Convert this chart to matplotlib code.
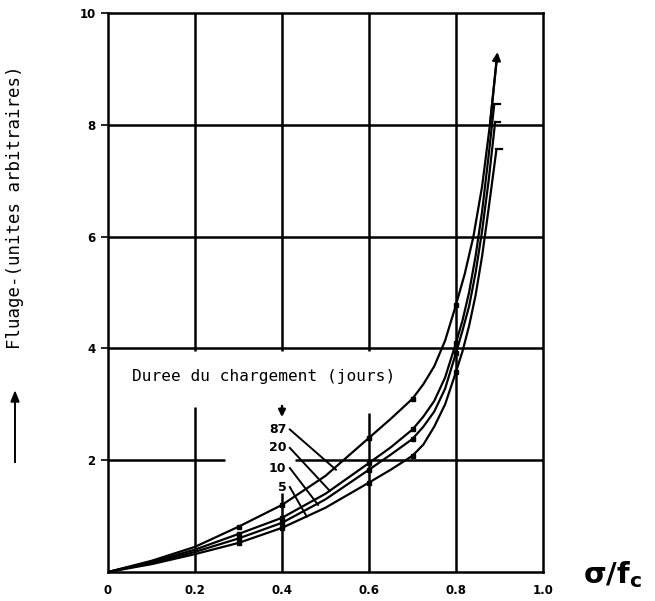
import numpy as np
import matplotlib.pyplot as plt

# readings from the scanned figure (sigma/fc vs creep, arbitrary units)
x_87 = [0.0, 0.1, 0.2, 0.3, 0.4, 0.5, 0.6, 0.65, 0.7, 0.725, 0.75, 0.775, 0.8, 0.82, 0.84, 0.86, 0.878, 0.894]
creep_87 = [0.0, 0.20, 0.45, 0.81, 1.20, 1.72, 2.40, 2.74, 3.10, 3.36, 3.68, 4.14, 4.78, 5.33, 6.00, 6.90, 8.00, 9.20]
x_20 = [0.0, 0.1, 0.2, 0.3, 0.4, 0.5, 0.6, 0.65, 0.7, 0.725, 0.75, 0.775, 0.8, 0.815, 0.83, 0.845, 0.86, 0.875, 0.888]
creep_20 = [0.0, 0.18, 0.40, 0.68, 0.97, 1.40, 1.95, 2.23, 2.55, 2.78, 3.06, 3.48, 4.10, 4.50, 5.00, 5.65, 6.45, 7.45, 8.37]
x_10 = [0.0, 0.1, 0.2, 0.3, 0.4, 0.5, 0.6, 0.65, 0.7, 0.725, 0.75, 0.775, 0.8, 0.815, 0.83, 0.845, 0.86, 0.875, 0.890]
creep_10 = [0.0, 0.16, 0.36, 0.60, 0.88, 1.30, 1.83, 2.10, 2.38, 2.60, 2.87, 3.28, 3.92, 4.32, 4.75, 5.35, 6.10, 7.00, 8.05]
x_5 = [0.0, 0.1, 0.2, 0.3, 0.4, 0.5, 0.6, 0.65, 0.7, 0.725, 0.75, 0.775, 0.8, 0.815, 0.83, 0.845, 0.86, 0.875, 0.893]
creep_5 = [0.0, 0.14, 0.32, 0.52, 0.79, 1.15, 1.60, 1.83, 2.08, 2.28, 2.60, 3.00, 3.58, 3.95, 4.40, 4.95, 5.65, 6.50, 7.56]
durations = ['87', '20', '10', '5']
mark_x = [0.3, 0.4, 0.6, 0.7, 0.8]

x_ticks = [0, 0.2, 0.4, 0.6, 0.8, 1.0]
x_ticklabels = ['0', '0.2', '0.4', '0.6', '0.8', '1.0']
y_ticks = [2, 4, 6, 8, 10]

series = [(x_87, creep_87), (x_20, creep_20), (x_10, creep_10), (x_5, creep_5)]

fig = plt.figure(figsize=(6.55, 6.01), dpi=100)
ax = fig.add_axes([108/655, 1 - 572/601, 435/655, 559/601])
ax.set_xlim(0, 1.0)
ax.set_ylim(0, 10)

# grid (some segments are broken in the original around the annotations)
gk = dict(color='black', lw=1.8, zorder=1)
ax.vlines(0.2, 0, 2.95, **gk)
ax.vlines(0.2, 3.95, 10, **gk)
ax.vlines(0.4, 0, 1.42, **gk)
ax.vlines(0.4, 3.95, 10, **gk)
ax.vlines(0.6, 0, 2.85, **gk)
ax.vlines(0.6, 3.95, 10, **gk)
ax.vlines(0.8, 0, 10, **gk)
ax.hlines(2, 0, 0.27, **gk)
ax.hlines(2, 0.43, 1.0, **gk)
for yv in [4, 6, 8]:
    ax.hlines(yv, 0, 1.0, **gk)

# curves
for i, (xs, ys) in enumerate(series):
    ax.plot(xs, ys, color='black', lw=1.6, zorder=3)
    my = [ys[xs.index(m)] for m in mark_x]
    ax.plot(mark_x, my, 's', color='black', ms=3.2, zorder=4)
    if i == 0:
        ax.annotate('', xy=(xs[-1] + 0.002, ys[-1] + 0.15), xytext=(xs[-2], ys[-2]),
                    arrowprops=dict(arrowstyle='-|>', color='black', lw=1.6,
                                    mutation_scale=12), zorder=5)
    else:
        ax.plot([xs[-1], xs[-1] + 0.012], [ys[-1], ys[-1]], color='black', lw=1.6)

# legend-like annotation
mono = dict(family='DejaVu Sans Mono', color='black')
ax.text(0.055, 3.5, 'Duree du chargement (jours)', fontsize=11.6, va='center', **mono)
ax.annotate('', xy=(0.40, 2.72), xytext=(0.40, 3.02),
            arrowprops=dict(arrowstyle='-|>', color='black', lw=1.8, mutation_scale=10))
lab_y = [2.55, 2.22, 1.86, 1.52]
end_pt = [(0.524, 1.83), (0.51, 1.45), (0.483, 1.20), (0.457, 0.99)]
for lab, ly, (ex, ey) in zip(durations, lab_y, end_pt):
    ax.text(0.41, ly, lab, fontsize=9, fontweight='bold', ha='right', va='center',
            family='DejaVu Sans')
    ax.plot([0.418, ex], [ly, ey], color='black', lw=1.4, zorder=3)

# axes styling
for sp in ax.spines.values():
    sp.set_linewidth(1.8)
ax.set_xticks(x_ticks)
ax.set_xticklabels(x_ticklabels, fontsize=8.5, fontweight='bold')
ax.set_yticks(y_ticks)
ax.set_yticklabels([str(v) for v in y_ticks], fontsize=8.5, fontweight='bold')
ax.tick_params(axis='x', length=0, pad=9)
ax.tick_params(axis='y', direction='out', length=5, width=1.2, pad=4)

plt.rcParams['mathtext.fontset'] = 'dejavusans'
fig.text(583/655, 1 - 575/601, r'$\mathbf{\sigma/f_c}$', fontsize=21, va='center', ha='left')
fig.text(15/655, 1 - 207/601, 'Fluage-(unites arbitraires)', rotation=90, fontsize=12.5,
         ha='center', va='center', **mono)
fig.add_artist(plt.Line2D([15/655, 15/655], [1 - 462/601, 1 - 400/601], color='black', lw=1.4))
fig.patches.append(plt.Polygon([[11/655, 1 - 402/601], [19/655, 1 - 402/601], [15/655, 1 - 392/601]],
                               closed=True, color='black', transform=fig.transFigure))

fig.savefig('out.png', dpi=100)
